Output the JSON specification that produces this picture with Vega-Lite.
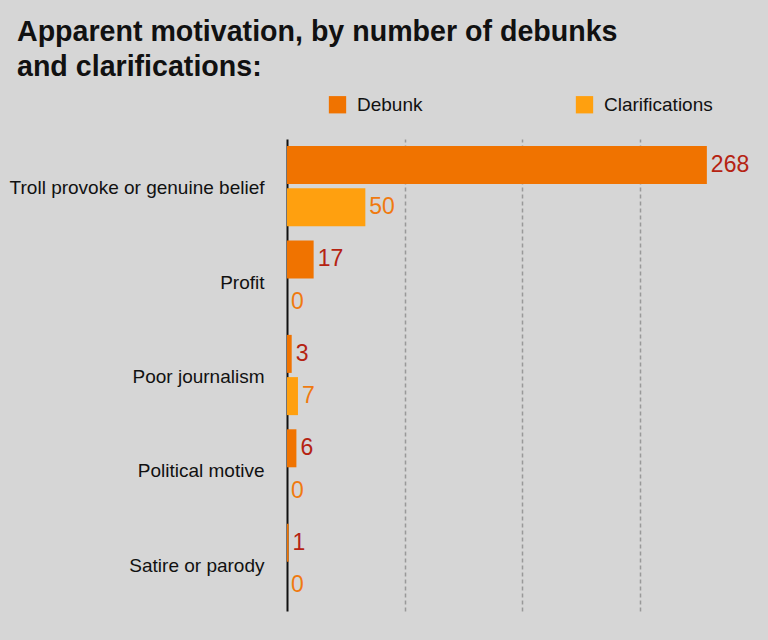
{
  "$schema": "https://vega.github.io/schema/vega-lite/v6.json",
  "autosize": "none",
  "width": 470,
  "height": 472,
  "padding": {"left": 287, "top": 139, "right": 11, "bottom": 29},
  "background": "#d6d6d6",
  "title": {
    "text": ["Apparent motivation, by number of debunks", "and clarifications:"],
    "anchor": "start",
    "frame": "group",
    "dx": -270,
    "offset": 13,
    "font": "Liberation Sans",
    "fontSize": 28.6,
    "fontWeight": "bold",
    "color": "#111111",
    "lineHeight": 35
  },
  "config": {
    "view": {"stroke": null},
    "font": "Liberation Sans"
  },
  "data": {
    "values": [
      {"motivation": "Troll provoke or genuine belief", "type": "Debunk", "count": 268},
      {"motivation": "Troll provoke or genuine belief", "type": "Clarifications", "count": 50},
      {"motivation": "Profit", "type": "Debunk", "count": 17},
      {"motivation": "Profit", "type": "Clarifications", "count": 0},
      {"motivation": "Poor journalism", "type": "Debunk", "count": 3},
      {"motivation": "Poor journalism", "type": "Clarifications", "count": 7},
      {"motivation": "Political motive", "type": "Debunk", "count": 6},
      {"motivation": "Political motive", "type": "Clarifications", "count": 0},
      {"motivation": "Satire or parody", "type": "Debunk", "count": 1},
      {"motivation": "Satire or parody", "type": "Clarifications", "count": 0}
    ]
  },
  "encoding": {
    "y": {
      "field": "motivation",
      "type": "nominal",
      "sort": null,
      "title": null,
      "scale": {"paddingInner": 0.15, "paddingOuter": 0.075},
      "axis": {
        "domainColor": "#111111",
        "domainWidth": 2,
        "ticks": false,
        "labelPadding": 23,
        "labelFontSize": 19,
        "labelColor": "#111111",
        "labelLimit": 300,
        "labelOffset": 2,
        "grid": false
      }
    },
    "yOffset": {
      "field": "type",
      "type": "nominal",
      "sort": ["Debunk", "Clarifications"],
      "scale": {"paddingInner": 0.1, "paddingOuter": 0}
    },
    "x": {
      "field": "count",
      "type": "quantitative",
      "title": null,
      "scale": {"domain": [0, 300], "nice": false},
      "axis": {
        "values": [75, 150, 225],
        "labels": false,
        "ticks": false,
        "domain": false,
        "grid": true,
        "gridColor": "#999999",
        "gridDash": [4, 3],
        "gridWidth": 1.5
      }
    }
  },
  "layer": [
    {
      "mark": {"type": "bar"},
      "encoding": {
        "color": {
          "field": "type",
          "type": "nominal",
          "sort": ["Debunk", "Clarifications"],
          "scale": {"domain": ["Debunk", "Clarifications"], "range": ["#f07300", "#ffa00f"]},
          "legend": {
            "title": null,
            "orient": "none",
            "direction": "horizontal",
            "legendX": 41,
            "legendY": -44,
            "symbolType": "square",
            "symbolSize": 300,
            "symbolStrokeWidth": 0,
            "labelFontSize": 19,
            "labelColor": "#111111",
            "labelOffset": 10,
            "gridAlign": "all",
            "columnPadding": 109,
            "labelLimit": 200
          }
        }
      }
    },
    {
      "mark": {"type": "text", "align": "left", "baseline": "middle", "dx": 4, "fontSize": 23},
      "encoding": {
        "text": {"field": "count", "type": "quantitative"},
        "color": {
          "condition": {"test": "datum.type === 'Debunk'", "value": "#b52312"},
          "value": "#f07a10"
        }
      }
    }
  ]
}
